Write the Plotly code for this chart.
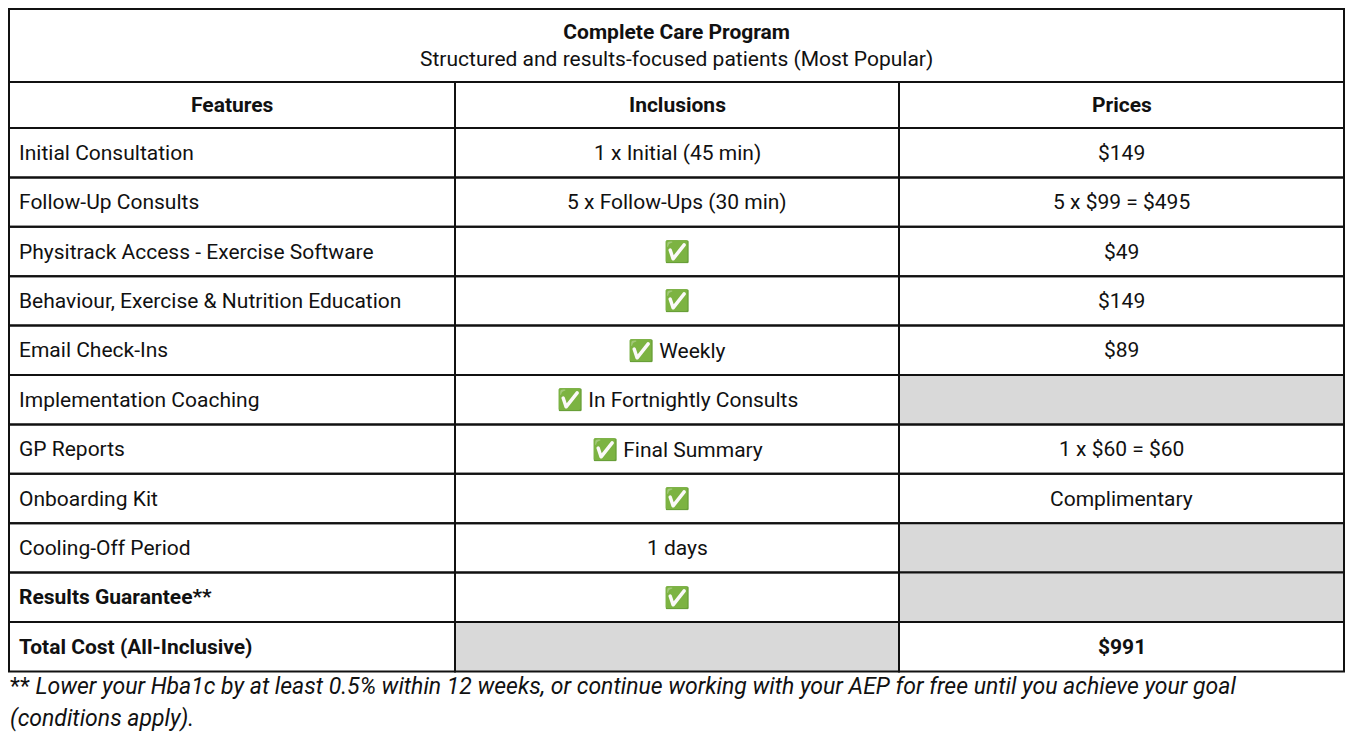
import plotly.graph_objects as go

# table content
title = "Complete Care Program"
subtitle = "Structured and results-focused patients (Most Popular)"
columns = ["Features", "Inclusions", "Prices"]
features = [
    "Initial Consultation", "Follow-Up Consults", "Physitrack Access - Exercise Software",
    "Behaviour, Exercise & Nutrition Education", "Email Check-Ins", "Implementation Coaching",
    "GP Reports", "Onboarding Kit", "Cooling-Off Period", "<b>Results Guarantee**</b>",
    "<b>Total Cost (All-Inclusive)</b>",
]
inclusions = [
    "1 x Initial (45 min)", "5 x Follow-Ups (30 min)", "✅", "✅", "✅ Weekly",
    "✅ In Fortnightly Consults", "✅ Final Summary", "✅", "1 days", "✅", "",
]
prices = [
    "$149", "5 x $99 = $495", "$49", "$149", "$89", "", "1 x $60 = $60",
    "Complimentary", "", "", "<b>$991</b>",
]
footnote_lines = [
    "** <i>Lower your Hba1c by at least 0.5% within 12 weeks, or continue working with your AEP "
    "for free until you achieve your goal</i>",
    "<i>(conditions apply).</i>",
]

# layout (screen pixels; page body adds an 8px margin)
W, H, OFF = 1355, 744, 8
col_edges = [9, 455, 899, 1344]
title_top, header_top, rows_top, row_h = 9, 82, 128, 49.4
GREY = "#d9d9d9"
INK = "#111111"
FONT = "Roboto"
size = 21

fig = go.Figure()

def rect(x0, y0, x1, y1, fill="rgba(0,0,0,0)"):
    fig.add_shape(type="rect", x0=x0, x1=x1, y0=y0, y1=y1, xref="x", yref="y",
                  fillcolor=fill, line=dict(color=INK, width=2), layer="above")

def label(text, x, y, anchor="center"):
    fig.add_annotation(text=text, x=x, y=y, xref="x", yref="y", xanchor=anchor,
                       yanchor="middle", showarrow=False, align="center",
                       font=dict(family=FONT, size=size, color=INK))

# title block
rect(col_edges[0], title_top, col_edges[-1], header_top)
label(f"<b>{title}</b><br>{subtitle}", (col_edges[0] + col_edges[-1]) / 2,
      (title_top + header_top) / 2)

# header row
for j, c in enumerate(columns):
    rect(col_edges[j], header_top, col_edges[j + 1], rows_top)
    label(f"<b>{c}</b>", (col_edges[j] + col_edges[j + 1]) / 2, (header_top + rows_top) / 2)

# body rows
for i, row in enumerate(zip(features, inclusions, prices)):
    y0 = rows_top + i * row_h
    y1 = y0 + row_h
    ym = (y0 + y1) / 2
    for j, v in enumerate(row):
        rect(col_edges[j], y0, col_edges[j + 1], y1, GREY if v == "" else "rgba(0,0,0,0)")
        if v == "":
            continue
        if j == 0:
            label(v, col_edges[j] + 8, ym, "left")
        else:
            label(v, (col_edges[j] + col_edges[j + 1]) / 2, ym)

# footnote
for k, line in enumerate(footnote_lines):
    fig.add_annotation(text=line, x=col_edges[0] - 1, y=686 + 32 * k, xref="x", yref="y",
                       xanchor="left", yanchor="middle", showarrow=False,
                       font=dict(family=FONT, size=23, color=INK))

fig.update_xaxes(range=[OFF, W + OFF], visible=False, fixedrange=True)
fig.update_yaxes(range=[H + OFF, OFF], visible=False, fixedrange=True)
fig.update_layout(
    width=W, height=H,
    margin=dict(l=0, r=0, t=0, b=0),
    paper_bgcolor="white", plot_bgcolor="white",
    showlegend=False,
)

fig.write_html("out.html")
